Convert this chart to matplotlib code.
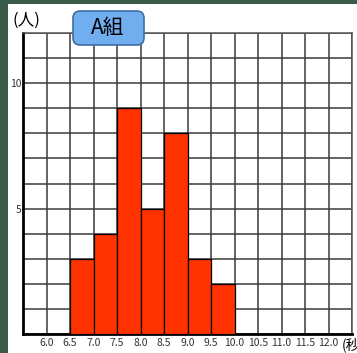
import numpy as np
import matplotlib.pyplot as plt
from matplotlib.patches import FancyBboxPatch

plt.rcParams['font.family'] = ['Noto Sans CJK JP', 'DejaVu Sans']

# datos del histograma (A組)
bordes = [6.5, 7.0, 7.5, 8.0, 8.5, 9.0, 9.5]
cuentas = [3, 4, 9, 5, 8, 3, 2]
yticks_lab = [5, 10]

W, H = 357, 353
fig = plt.figure(figsize=(W/100, H/100), dpi=100)
fig.patch.set_facecolor('#3a5b4a')
# panel blanco
fig.add_artist(plt.Rectangle((8/W, 0), 1, 1 - 4/H, transform=fig.transFigure,
                             facecolor='white', edgecolor='none', zorder=0))

ax = fig.add_axes([23/W, 19/H, 329/W, 301/H])
ax.set_facecolor('white')
ax.bar(bordes, cuentas, width=0.5, align='edge', color='#ff3300',
       edgecolor='black', linewidth=0.9, zorder=3)

ax.set_xlim(5.5, 12.5)
ax.set_ylim(0, 12)
xs = np.arange(5.5, 12.51, 0.5)
ax.set_xticks(xs)
ax.set_xticklabels(['' if (v < 6 or v > 12) else f'{v:.1f}' for v in xs])
ax.set_yticks(range(0, 13))
ax.set_yticklabels([str(v) if v in yticks_lab else '' for v in range(0, 13)])
ax.tick_params(length=0, labelsize=7.5, colors='#333333', pad=3)
ax.tick_params(axis='y', pad=1)
ax.grid(True, color='#3a3a3a', linewidth=1.1, zorder=1)
ax.set_axisbelow(True)
for s in ['top', 'right']:
    ax.spines[s].set_color('#555555')
    ax.spines[s].set_linewidth(1.1)
for s in ['left', 'bottom']:
    ax.spines[s].set_color('black')
    ax.spines[s].set_linewidth(2)

fig.text(12/W, 1 - 20/H, '(人)', fontsize=12, va='center', ha='left')

# caja del titulo
caja = FancyBboxPatch((73/W, 1 - 45/H), 71/W, 34/H, transform=fig.transFigure,
                      boxstyle='round,pad=0,rounding_size=0.02', mutation_aspect=W/H,
                      facecolor='#70aef0', edgecolor='#3d6fa8', linewidth=1.2, zorder=10)
fig.add_artist(caja)
fig.text(108/W, 1 - 28/H, 'A組', fontsize=15, va='center', ha='center', zorder=11)
fig.text(342/W, 1 - 345/H, '(秒)', fontsize=10, va='center', ha='left')

fig.savefig('out.png', dpi=100, facecolor=fig.get_facecolor())
